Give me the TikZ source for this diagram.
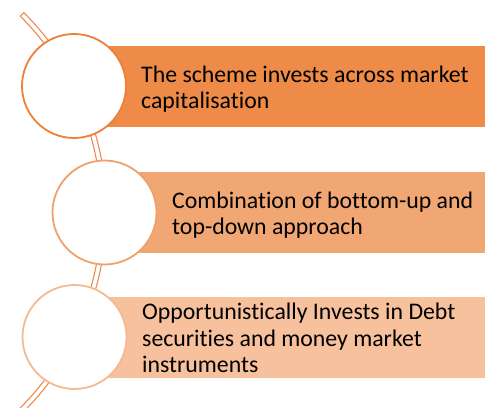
\documentclass[tikz,border=0pt]{standalone}
\usepackage{fontspec}
\setmainfont[Ligatures=NoCommon]{Carlito}
\definecolor{fillA}{RGB}{238,139,72}
\definecolor{fillB}{RGB}{241,167,116}
\definecolor{fillC}{RGB}{246,193,156}
\definecolor{lineA}{RGB}{237,128,58}
\definecolor{lineB}{RGB}{240,160,108}
\definecolor{lineC}{RGB}{244,186,146}
\definecolor{arcline}{RGB}{238,138,80}
\begin{document}
\begin{tikzpicture}[x=1pt,y=-1pt,
  bar/.style={rectangle, draw=none, minimum width=411pt, minimum height=81pt, anchor=west, inner sep=0pt},
  disc/.style={circle, fill=white, line width=1.8pt, minimum size=104pt, inner sep=0pt},
  label/.style={anchor=west, inner sep=0pt, align=left, font=\fontsize{23.8pt}{26.6pt}\selectfont},
  band/.style={draw=arcline, fill=white, line width=1.1pt, line join=miter}]
\useasboundingbox (0,0) rectangle (489,407);
\clip (0,0) rectangle (489,407);
\coordinate (ctr) at (-175.6,212);
% curved connector
\draw[band] (ctr) ++(-45:282) arc[start angle=-45,end angle=46,radius=282]
  -- ++(46:-5) arc[start angle=46,end angle=-45,radius=277] -- cycle;
% bars
\node[bar, fill=fillA] (b1) at (74,86.5) {};
\node[bar, fill=fillB] (b2) at (74,212.5) {};
\node[bar, fill=fillC] (b3) at (74,337.5) {};
% circles
\node[disc, draw=lineA] (c1) at (74,86) {};
\node[disc, draw=lineB] (c2) at (104.5,212.5) {};
\node[disc, draw=lineC] (c3) at (74.5,337) {};
% texts
\node[label] (t1) at (141,89) {The scheme invests across market\\capitalisation};
\node[label] (t2) at (172,215) {Combination of bottom-up and\\top-down approach};
\node[label] (t3) at (142,338) {Opportunistically Invests in Debt\\securities and money market\\instruments};
\end{tikzpicture}
\end{document}
